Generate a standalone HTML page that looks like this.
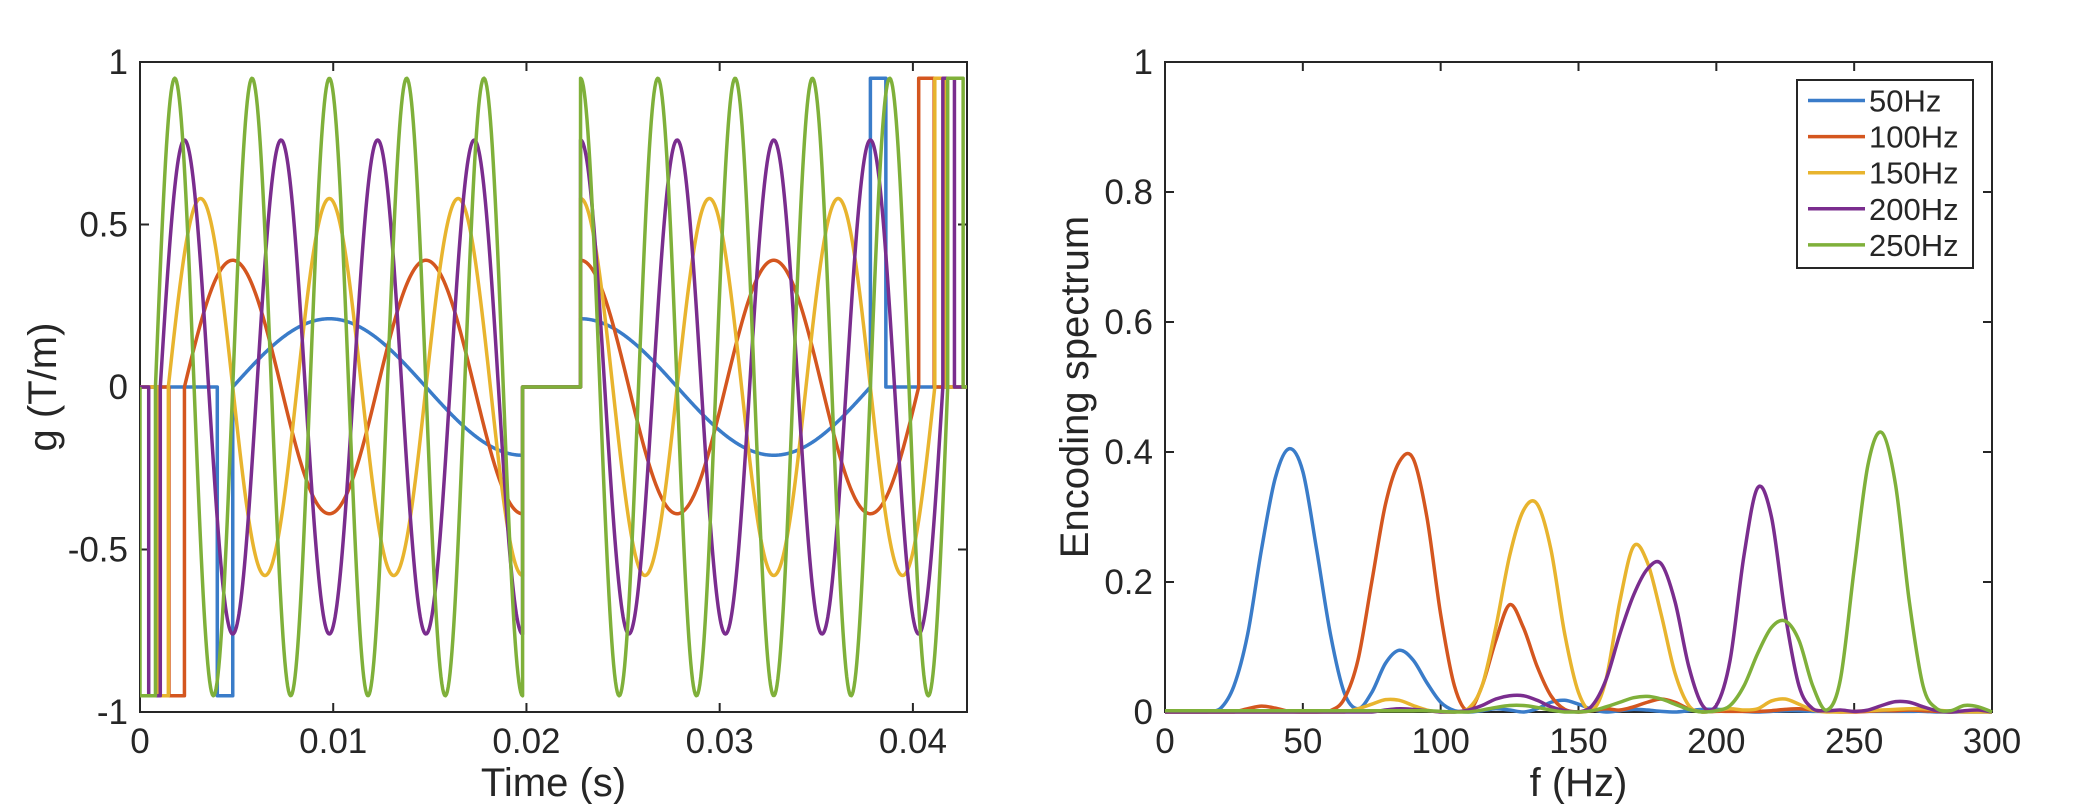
<!DOCTYPE html>
<html><head><meta charset="utf-8"><style>
html,body{margin:0;padding:0;background:#fff;width:2091px;height:804px;overflow:hidden}
text{font-family:"Liberation Sans",sans-serif;fill:#262626}
</style></head><body>
<svg id="svg" width="2091" height="804" xmlns="http://www.w3.org/2000/svg"></svg>
<script>
// ---- Left chart data (gradient waveform parameters) ----
const waveFreqs = [50, 100, 150, 200, 250];
const waveAmps = [0.21, 0.39, 0.58, 0.76, 0.95];
const waveCycles = [0.75, 1.75, 2.75, 3.75, 4.75];
const pulseWidths = [0.0008, 0.0008, 0.0005, 0.0006, 0.0008];
const pulseAmp = 0.95;
const halfEnd = 0.0198, secondStart = 0.0228;
const leftXTicks = [0, 0.01, 0.02, 0.03, 0.04];
const leftXTickLabels = ["0", "0.01", "0.02", "0.03", "0.04"];
const leftYTicks = [-1, -0.5, 0, 0.5, 1];
const leftYTickLabels = ["-1", "-0.5", "0", "0.5", "1"];
// ---- Right chart data (spectra sampled every 5 Hz, 0..300) ----
const specFreqs = Array.from({length: 61}, (_, i) => i * 5);
const spec50 = [0,0,0,0,0.005,0.04,0.12,0.25,0.36,0.405,0.37,0.25,0.12,0.03,0.005,0.03,0.075,0.095,0.08,0.045,0.015,0.002,0,0.002,0.005,0.003,0,0.005,0.015,0.018,0.012,0.004,0,0.002,0.004,0.003,0.001,0,0.002,0.004,0.004,0.003,0.001,0,0.001,0.002,0.002,0.001,0.001,0.001,0.001,0.001,0.001,0.001,0.001,0.001,0,0,0,0,0];
const spec100 = [0,0,0,0,0,0,0.005,0.009,0.006,0.001,0,0,0.002,0.02,0.08,0.2,0.32,0.385,0.39,0.3,0.15,0.04,0.002,0.04,0.11,0.165,0.13,0.07,0.025,0.004,0,0.002,0.005,0.003,0.008,0.015,0.02,0.015,0.005,0,0.001,0.001,0.001,0.001,0.002,0.004,0.005,0.003,0.001,0,0,0.001,0.002,0.002,0.003,0.002,0.001,0,0.001,0.001,0];
const spec150 = [0,0,0,0,0,0,0,0,0,0,0,0,0,0,0.005,0.012,0.019,0.018,0.01,0.003,0,0,0.005,0.04,0.13,0.24,0.31,0.32,0.25,0.12,0.03,0.003,0.05,0.17,0.255,0.23,0.15,0.06,0.01,0,0.002,0.005,0.003,0.005,0.017,0.02,0.012,0.003,0,0,0.001,0.002,0.003,0.004,0.005,0.005,0.003,0.001,0,0,0];
const spec200 = [0,0,0,0,0,0,0,0,0,0,0,0,0,0,0,0,0.003,0.005,0.004,0.002,0,0,0.003,0.01,0.02,0.025,0.025,0.018,0.008,0.002,0,0.01,0.05,0.12,0.18,0.22,0.228,0.17,0.07,0.01,0.01,0.08,0.24,0.345,0.3,0.15,0.04,0.005,0.002,0.003,0.001,0.003,0.01,0.016,0.015,0.008,0.002,0,0.002,0.003,0];
const spec250 = [0.002,0.002,0.002,0.002,0.002,0.002,0.002,0.002,0.002,0.002,0.002,0.002,0.002,0.002,0.002,0.002,0.002,0.002,0.002,0.002,0.001,0,0,0.003,0.007,0.01,0.01,0.007,0.003,0,0,0.002,0.008,0.015,0.022,0.024,0.02,0.012,0.004,0,0.002,0.01,0.04,0.09,0.13,0.14,0.11,0.04,0.003,0.05,0.22,0.38,0.43,0.35,0.17,0.04,0.005,0.002,0.01,0.008,0];
const specSeries = [spec50, spec100, spec150, spec200, spec250];
const legendLabels = ["50Hz", "100Hz", "150Hz", "200Hz", "250Hz"];
const rightXTicks = [0, 50, 100, 150, 200, 250, 300];
const rightYTicks = [0, 0.2, 0.4, 0.6, 0.8, 1];
const rightYTickLabels = ["0", "0.2", "0.4", "0.6", "0.8", "1"];

const colors = ["#3a7cc9", "#d4561f", "#e8b42e", "#7a2d8e", "#7fb03a"];
const NS = "http://www.w3.org/2000/svg";
const svg = document.getElementById("svg");
function mk(tag, attrs, parent) {
  const e = document.createElementNS(NS, tag);
  for (const k in attrs) e.setAttribute(k, attrs[k]);
  (parent || svg).appendChild(e);
  return e;
}
const L = {x0: 140, x1: 967, y0: 62, y1: 712, xmin: 0, xmax: 0.0428, ymin: -1, ymax: 1};
const R = {x0: 1165, x1: 1992, y0: 62, y1: 712, xmin: 0, xmax: 300, ymin: 0, ymax: 1};
const sx = (A, v) => A.x0 + (v - A.xmin) / (A.xmax - A.xmin) * (A.x1 - A.x0);
const sy = (A, v) => A.y1 - (v - A.ymin) / (A.ymax - A.ymin) * (A.y1 - A.y0);

function axes(A, xt, xl, yt, yl, xlabel, ylabel, ylabelX, prefix) {
  const g = mk("g", {});
  
  
  mk("rect", {x: A.x0, y: A.y0, width: A.x1 - A.x0, height: A.y1 - A.y0, fill: "none", stroke: "#262626", "stroke-width": 2}, g);
  xt.forEach((v, i) => {
    const x = sx(A, v);
    mk("line", {x1: x, x2: x, y1: A.y1, y2: A.y1 - 9, stroke: "#262626", "stroke-width": 2}, g);
    mk("line", {x1: x, x2: x, y1: A.y0, y2: A.y0 + 9, stroke: "#262626", "stroke-width": 2}, g);
    const t = mk("text", {x: x, y: 753, "font-size": 35, "text-anchor": "middle"}, g);
    t.textContent = xl[i];
    
    
  });
  yt.forEach((v, i) => {
    const y = sy(A, v);
    mk("line", {x1: A.x0, x2: A.x0 + 9, y1: y, y2: y, stroke: "#262626", "stroke-width": 2}, g);
    mk("line", {x1: A.x1, x2: A.x1 - 9, y1: y, y2: y, stroke: "#262626", "stroke-width": 2}, g);
    const t = mk("text", {x: A.x0 - 12, y: y + 12, "font-size": 35, "text-anchor": "end"}, g);
    t.textContent = yl[i];
    
    
  });
  const xt2 = mk("text", {x: (A.x0 + A.x1) / 2, y: 796, "font-size": 40, "text-anchor": "middle"}, g);
  xt2.textContent = xlabel;
  
  
  const cy = (A.y0 + A.y1) / 2;
  const yt2 = mk("text", {x: ylabelX, y: cy, "font-size": 40, "text-anchor": "middle", transform: `rotate(-90 ${ylabelX} ${cy})`}, g);
  yt2.textContent = ylabel;
  
  
}
axes(L, leftXTicks, leftXTickLabels, leftYTicks, leftYTickLabels, "Time (s)", "g (T/m)", 56, "left");
axes(R, rightXTicks, rightXTicks.map(String), rightYTicks, rightYTickLabels, "f (Hz)", "Encoding spectrum", 1088, "right");

const clipL = mk("clipPath", {id: "cl"});
mk("rect", {x: L.x0, y: L.y0 - 5, width: L.x1 - L.x0, height: L.y1 - L.y0 + 10}, clipL);
waveFreqs.forEach((f, k) => {
  const A = waveAmps[k], D = waveCycles[k] / f, w = pulseWidths[k];
  const ts = halfEnd - D;
  const pts = [];
  const P = (t, v) => pts.push(sx(L, t).toFixed(2) + "," + sy(L, v).toFixed(2));
  P(0, 0); P(ts - w, 0); P(ts - w, -pulseAmp); P(ts, -pulseAmp); P(ts, 0);
  const N = 400;
  for (let i = 0; i <= N; i++) { const t = ts + D * i / N; P(t, A * Math.sin(2 * Math.PI * f * (t - ts))); }
  P(halfEnd, 0); P(secondStart, 0);
  for (let i = 0; i <= N; i++) { const t = secondStart + D * i / N; P(t, A * Math.cos(2 * Math.PI * f * (t - secondStart))); }
  const te = secondStart + D;
  P(te, 0); P(te, pulseAmp); P(te + w, pulseAmp); P(te + w, 0); P(L.xmax, 0);
  const pl = mk("polyline", {points: pts.join(" "), fill: "none", stroke: colors[k], "stroke-width": 3.5, "clip-path": "url(#cl)", "stroke-linejoin": "round"});
  
  
});

// right spectra drawn as smooth curves through the sampled points
specSeries.forEach((arr, k) => {
  const p = arr.map((v, i) => [sx(R, specFreqs[i]), sy(R, v)]);
  let d = "M" + p[0][0].toFixed(2) + "," + p[0][1].toFixed(2);
  for (let i = 0; i < p.length - 1; i++) {
    const p0 = p[Math.max(0, i - 1)], p1 = p[i], p2 = p[i + 1], p3 = p[Math.min(p.length - 1, i + 2)];
    let c1y = p1[1] + (p2[1] - p0[1]) / 6, c2y = p2[1] - (p3[1] - p1[1]) / 6;
    c1y = Math.min(c1y, R.y1); c2y = Math.min(c2y, R.y1);
    d += ` C${(p1[0] + (p2[0] - p0[0]) / 6).toFixed(2)},${c1y.toFixed(2)} ${(p2[0] - (p3[0] - p1[0]) / 6).toFixed(2)},${c2y.toFixed(2)} ${p2[0].toFixed(2)},${p2[1].toFixed(2)}`;
  }
  const pl = mk("path", {d: d, fill: "none", stroke: colors[k], "stroke-width": 3.5, "stroke-linejoin": "round"});
  
  
});

const lg = mk("g", {});


mk("rect", {x: 1797, y: 80, width: 176, height: 188, fill: "#fff", stroke: "#262626", "stroke-width": 2}, lg);
legendLabels.forEach((lab, k) => {
  const y = 100.5 + k * 36.1;
  const e = mk("g", {}, lg);
  
  
  mk("line", {x1: 1808, x2: 1865, y1: y, y2: y, stroke: colors[k], "stroke-width": 3.5}, e);
  const t = mk("text", {x: 1869, y: y + 11, "font-size": 31}, e);
  t.textContent = lab;
});
</script>
</body></html>
